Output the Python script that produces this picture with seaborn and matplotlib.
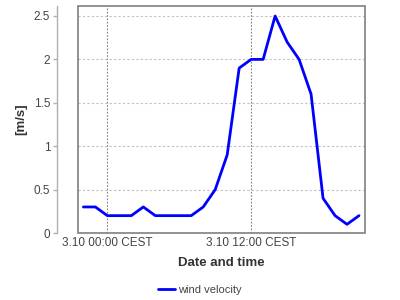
import matplotlib
matplotlib.use("Agg")
import matplotlib.pyplot as plt
from matplotlib.patches import Rectangle
import seaborn as sns
import pandas as pd

times = ["2023-10-02 22:00", "2023-10-02 23:00", "2023-10-03 00:00", "2023-10-03 01:00",
         "2023-10-03 02:00", "2023-10-03 03:00", "2023-10-03 04:00", "2023-10-03 05:00",
         "2023-10-03 06:00", "2023-10-03 07:00", "2023-10-03 08:00", "2023-10-03 09:00",
         "2023-10-03 10:00", "2023-10-03 11:00", "2023-10-03 12:00", "2023-10-03 13:00",
         "2023-10-03 14:00", "2023-10-03 15:00", "2023-10-03 16:00", "2023-10-03 17:00",
         "2023-10-03 18:00", "2023-10-03 19:00", "2023-10-03 20:00", "2023-10-03 21:00"]
wind = [0.3, 0.3, 0.2, 0.2, 0.2, 0.3, 0.2, 0.2, 0.2, 0.2, 0.3, 0.5,
        0.9, 1.9, 2.0, 2.0, 2.5, 2.2, 2.0, 1.6, 0.4, 0.2, 0.1, 0.2]
tick_times = ["2023-10-03 00:00", "2023-10-03 12:00"]
tick_labels = ["3.10 00:00 CEST", "3.10 12:00 CEST"]
y_ticks = [0, 0.5, 1, 1.5, 2, 2.5]
y_tick_labels = ["0", "0.5", "1", "1.5", "2", "2.5"]

sns.set_theme(style="white")
plt.rcParams['font.family'] = ['Liberation Sans', 'DejaVu Sans']

df = pd.DataFrame({"time": pd.to_datetime(times), "wind velocity": wind})

fig = plt.figure(figsize=(4, 3), dpi=100)
ax = fig.add_axes([78/400, 1 - 233/300, (365-78)/400, (233-6)/300])

sns.lineplot(data=df, x="time", y="wind velocity", ax=ax, color="#0000ff",
             linewidth=2, label="wind velocity", legend=False)

t0 = pd.Timestamp("2023-10-02 21:33")
t1 = pd.Timestamp("2023-10-03 21:30")
ax.set_xlim(t0, t1)
ax.set_ylim(0, 2.615)

ax.set_xticks(pd.to_datetime(tick_times))
ax.set_xticklabels(tick_labels)
ax.set_yticks(y_ticks)
ax.set_yticklabels(y_tick_labels)

ax.grid(axis="y", color="#c0c0c0", linestyle=(0, (2, 2)), linewidth=0.8)
ax.grid(axis="x", color="#808080", linestyle=(0, (1.5, 1.5)), linewidth=0.8)

for s in ["top", "right", "bottom"]:
    ax.spines[s].set_visible(False)
ax.spines["left"].set_position(("outward", 15))
ax.spines["left"].set_color("#b0b0b0")
ax.spines["left"].set_linewidth(1.0)
ax.add_patch(Rectangle((0, 0), 1, 1, transform=ax.transAxes, fill=False,
                       edgecolor="#808080", linewidth=1.2, clip_on=False, zorder=5))

ax.tick_params(axis="y", which="both", left=True, length=3, width=1, color="#b0b0b0",
               labelsize=8.5, labelcolor="#444444", pad=2)
ax.tick_params(axis="x", which="both", bottom=False, length=0, labelsize=8.5,
               labelcolor="#444444", pad=3)

ax.set_xlabel("Date and time", fontsize=9.5, fontweight="bold", color="#333333", labelpad=6)
ax.set_ylabel("[m/s]", fontsize=9.5, fontweight="bold", color="#333333", labelpad=4.5)

fig.legend(loc="center", bbox_to_anchor=(0.5, 1 - 290/300), frameon=False, fontsize=8,
           handlelength=1.5, handletextpad=0.3, labelcolor="#444444")

fig.savefig("out.png", dpi=100, facecolor="white")
